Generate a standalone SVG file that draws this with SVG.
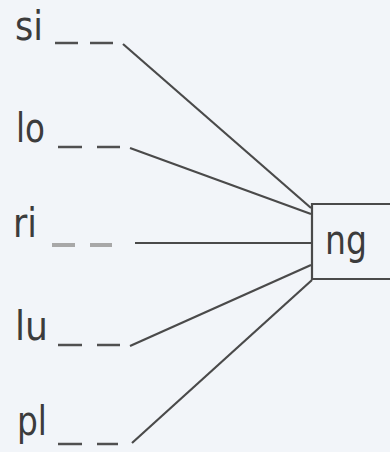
<svg xmlns="http://www.w3.org/2000/svg" width="390" height="452" viewBox="0 0 390 452">
<style>
.lbl{font-family:"DejaVu Sans",sans-serif;font-size:40px;fill:#3c3c3c}
.blank{stroke:#505050;stroke-width:2.5}
.blank2{stroke:#a8a8a8;stroke-width:4}
.conn{stroke:#4a4a4a;stroke-width:2.2;fill:none}
.box{stroke:#4a4a4a;stroke-width:2.2;fill:none}
</style>
<rect width="390" height="452" fill="#f2f5f9"/>
<g id="connectors">
<line class="conn" x1="123" y1="44" x2="311" y2="208"/>
<line class="conn" x1="130" y1="148" x2="311" y2="214"/>
<line class="conn" x1="135" y1="243" x2="311" y2="243"/>
<line class="conn" x1="130" y1="346" x2="311" y2="265"/>
<line class="conn" x1="132" y1="443" x2="312" y2="280"/>
</g>
<g id="node-si">
<text class="lbl" x="15" y="40" textLength="28" lengthAdjust="spacingAndGlyphs">si</text>
<line class="blank" x1="55" y1="43" x2="78" y2="43"/>
<line class="blank" x1="90" y1="43" x2="113" y2="43"/>
</g>
<g id="node-lo">
<text class="lbl" x="16" y="142" textLength="29" lengthAdjust="spacingAndGlyphs">lo</text>
<line class="blank" x1="58" y1="147" x2="82" y2="147"/>
<line class="blank" x1="97" y1="147" x2="120" y2="147"/>
</g>
<g id="node-ri">
<text class="lbl" x="13" y="237" textLength="24" lengthAdjust="spacingAndGlyphs">ri</text>
<line class="blank2" x1="52" y1="245" x2="75" y2="245"/>
<line class="blank2" x1="90" y1="245" x2="112" y2="245"/>
</g>
<g id="node-lu">
<text class="lbl" x="15" y="340" textLength="33" lengthAdjust="spacingAndGlyphs">lu</text>
<line class="blank" x1="58" y1="345" x2="82" y2="345"/>
<line class="blank" x1="97" y1="345" x2="120" y2="345"/>
</g>
<g id="node-pl">
<text class="lbl" x="17" y="435" textLength="30" lengthAdjust="spacingAndGlyphs">pl</text>
<line class="blank" x1="58" y1="444" x2="82" y2="444"/>
<line class="blank" x1="97" y1="444" x2="118" y2="444"/>
</g>
<g id="node-ng">
<path class="box" d="M 395 204 H 312 V 279 H 395"/>
<text class="lbl" x="325" y="254" textLength="42" lengthAdjust="spacingAndGlyphs">ng</text>
</g>
</svg>
